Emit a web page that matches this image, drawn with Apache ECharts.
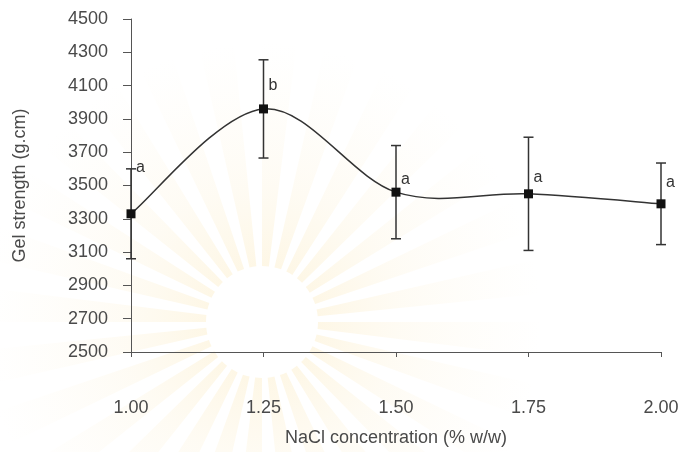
<!DOCTYPE html>
<html>
<head>
<meta charset="utf-8">
<script src="https://cdn.jsdelivr.net/npm/echarts@6/dist/echarts.min.js"></script>
<style>
  html, body { margin: 0; padding: 0; background: #ffffff; }
  #chart { width: 682px; height: 452px; }
</style>
</head>
<body>
<div id="chart"></div>
<script>
// NaCl concentration (% w/w) and measured gel strength (g.cm) with standard deviation
const concentration = [1.00, 1.25, 1.50, 1.75, 2.00];
const gelStrength = [3330, 3960, 3460, 3450, 3390];
const stdDev = [270, 295, 280, 340, 245];
const groupLetters = ['a', 'b', 'a', 'a', 'a'];
const xTicks = [1.00, 1.25, 1.50, 1.75, 2.00];
const yTicks = [2500, 2700, 2900, 3100, 3300, 3500, 3700, 3900, 4100, 4300, 4500];

// pixel offsets of each significance letter relative to its mean marker
const letterLift = [46, 23, 13, 16, 21];

const chart = echarts.init(document.getElementById('chart'), null, { renderer: 'canvas' });

// soft sunburst emblem drawn behind the plot
const cx = 262, cy = 322;
const rays = [];
const rayCount = 28;
for (let i = 0; i < rayCount; i++) {
  const a0 = (i / rayCount) * Math.PI * 2;
  const a1 = a0 + (Math.PI * 2 / rayCount) * 0.55;
  rays.push({
    type: 'sector',
    z: -10,
    silent: true,
    shape: { cx: cx, cy: cy, r0: 56, r: 280, startAngle: a0, endAngle: a1 },
    style: {
      fill: {
        type: 'radial', x: cx, y: cy, r: 280, global: true,
        colorStops: [
          { offset: 0, color: 'rgba(250, 226, 165, 0.0)' },
          { offset: 0.2, color: 'rgba(250, 226, 165, 0.28)' },
          { offset: 0.5, color: 'rgba(250, 230, 180, 0.15)' },
          { offset: 1, color: 'rgba(250, 236, 200, 0.0)' }
        ]
      }
    }
  });
}

const errorData = concentration.map((c, i) => [c, gelStrength[i] - stdDev[i], gelStrength[i] + stdDev[i], i]);
const points = concentration.map((c, i) => [c, gelStrength[i]]);

const font = 'Liberation Sans, Arial, sans-serif';
const fontSize = 18;
const letterSize = 16;

// smoothed connector: cardinal spline through the mean values, in pixel space
function renderCurve(params, api) {
  const p = points.map(d => api.coord(d));
  const n = p.length;
  const segs = [];
  for (let i = 0; i < n - 1; i++) {
    const p0 = p[Math.max(i - 1, 0)];
    const p1 = p[i];
    const p2 = p[i + 1];
    const p3 = p[Math.min(i + 2, n - 1)];
    segs.push({
      type: 'bezierCurve',
      shape: {
        x1: p1[0], y1: p1[1],
        cpx1: p1[0] + (p2[0] - p0[0]) / 6, cpy1: p1[1] + (p2[1] - p0[1]) / 6,
        cpx2: p2[0] - (p3[0] - p1[0]) / 6, cpy2: p2[1] - (p3[1] - p1[1]) / 6,
        x2: p2[0], y2: p2[1]
      },
      style: { stroke: '#333', lineWidth: 1.5, fill: null }
    });
  }
  return { type: 'group', children: segs };
}

chart.setOption({
  animation: false,
  backgroundColor: '#ffffff',
  graphic: rays,
  grid: { left: 131, right: 21, top: 19, bottom: 100, containLabel: false },
  xAxis: {
    type: 'value',
    min: xTicks[0],
    max: xTicks[xTicks.length - 1],
    interval: 0.25,
    name: 'NaCl concentration (% w/w)',
    nameLocation: 'middle',
    nameGap: 77,
    nameTextStyle: { fontFamily: font, fontSize: fontSize, color: '#4a4a4a' },
    axisLine: { lineStyle: { color: '#555', width: 1 } },
    axisTick: { inside: false, length: 5, lineStyle: { color: '#555' } },
    axisLabel: {
      margin: 47,
      fontFamily: font,
      fontSize: fontSize,
      color: '#4a4a4a',
      formatter: v => v.toFixed(2)
    },
    splitLine: { show: false }
  },
  yAxis: {
    type: 'value',
    min: yTicks[0],
    max: yTicks[yTicks.length - 1],
    interval: 200,
    name: 'Gel strength (g.cm)',
    nameLocation: 'middle',
    nameGap: 102,
    nameTextStyle: { fontFamily: font, fontSize: fontSize, color: '#4a4a4a' },
    axisLine: { show: true, lineStyle: { color: '#555', width: 1 } },
    axisTick: { show: true, inside: false, length: 8, lineStyle: { color: '#555' } },
    axisLabel: {
      margin: 23,
      fontFamily: font,
      fontSize: fontSize,
      color: '#4a4a4a',
      formatter: v => String(v)
    },
    splitLine: { show: false }
  },
  series: [
    {
      type: 'custom',
      data: [0],
      renderItem: renderCurve,
      silent: true,
      z: 2
    },
    {
      type: 'scatter',
      data: points,
      symbol: 'rect',
      symbolSize: 9,
      itemStyle: { color: '#111', opacity: 1 },
      z: 5
    },
    {
      type: 'custom',
      data: errorData,
      z: 4,
      renderItem: function (params, api) {
        const x = api.value(0);
        const lo = api.coord([x, api.value(1)]);
        const hi = api.coord([x, api.value(2)]);
        const idx = api.value(3);
        const mid = api.coord([x, gelStrength[idx]]);
        const cap = 5;
        const stroke = { stroke: '#333', lineWidth: 1.5 };
        return {
          type: 'group',
          children: [
            { type: 'line', shape: { x1: hi[0], y1: hi[1], x2: lo[0], y2: lo[1] }, style: stroke },
            { type: 'line', shape: { x1: hi[0] - cap, y1: hi[1], x2: hi[0] + cap, y2: hi[1] }, style: stroke },
            { type: 'line', shape: { x1: lo[0] - cap, y1: lo[1], x2: lo[0] + cap, y2: lo[1] }, style: stroke },
            {
              type: 'text',
              style: {
                text: groupLetters[idx],
                x: mid[0] + 5,
                y: mid[1] - letterLift[idx],
                textAlign: 'left',
                textVerticalAlign: 'middle',
                font: letterSize + 'px "Liberation Sans", Arial, sans-serif',
                fill: '#333'
              }
            }
          ]
        };
      }
    }
  ]
});
</script>
</body>
</html>
